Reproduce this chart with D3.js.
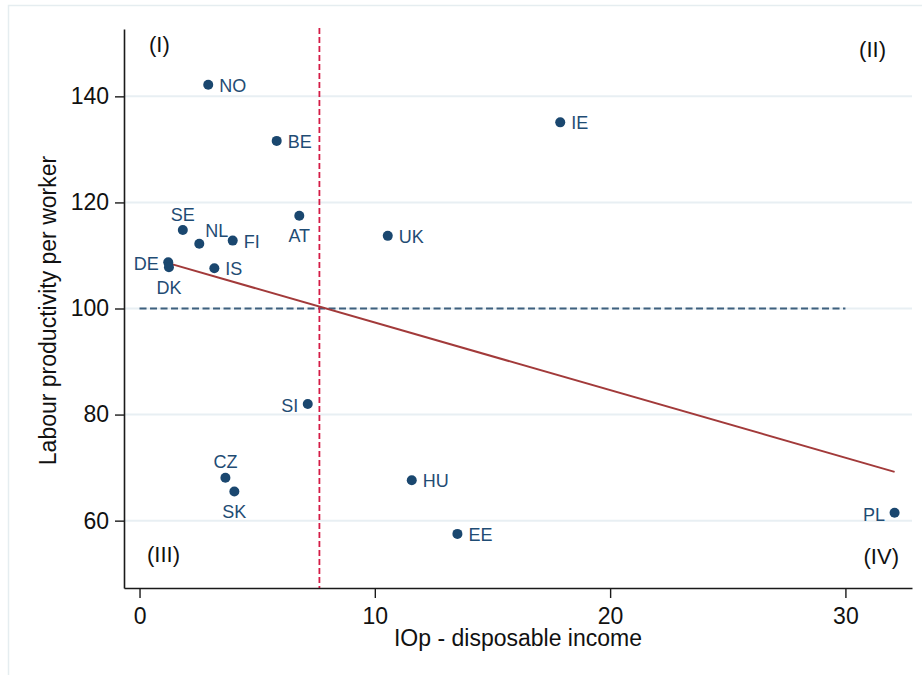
<!DOCTYPE html>
<html>
<head>
<meta charset="utf-8">
<script src="https://cdn.jsdelivr.net/npm/d3@7"></script>
<style>
  html, body { margin: 0; padding: 0; background: #fff; }
  svg { display: block; font-family: "Liberation Sans", Arial, Helvetica, sans-serif; }
</style>
</head>
<body>
<svg id="chart" width="922" height="675"></svg>
<script>
// Country codes with inequality of opportunity (disposable income) and labour productivity per worker
const countries    = ["NO", "BE", "SE", "NL", "FI", "DE", "DK", "IS", "AT", "UK", "IE", "SI", "CZ", "SK", "HU", "EE", "PL"];
const iop          = [2.92, 5.83, 1.84, 2.54, 3.96, 1.22, 1.25, 3.18, 6.79, 10.55, 17.88, 7.15, 3.65, 4.03, 11.57, 13.51, 32.09];
const productivity = [142.2, 131.6, 114.8, 112.2, 112.8, 108.7, 107.8, 107.6, 117.5, 113.7, 135.1, 82.0, 68.1, 65.5, 67.6, 57.5, 61.5];

const xTicks = [0, 10, 20, 30];
const yTicks = [60, 80, 100, 120, 140];
const quadrantLabels = ["(I)", "(II)", "(III)", "(IV)"];

// Reference level for productivity (dashed horizontal line) and its x span
const refLevel = 100;
const refSpan = [0, 30];

// Marker-label clock positions (default 3 o'clock)
const labelClock = { SE: 12, NL: 1, AT: 6, DE: 9, DK: 6, SI: 9, CZ: 12, SK: 6, PL: 9 };

const xTitle = "IOp - disposable income";
const yTitle = "Labour productivity per worker";

const svg = d3.select("#chart");
const W = 922, H = 675;
const plot = { left: 124, right: 912, top: 29, bottom: 588 };

const x = d3.scaleLinear().domain([-0.66, 32.83]).range([plot.left, plot.right]);
const y = d3.scaleLinear().domain([47.3, 152.7]).range([plot.bottom, plot.top]);

const points = countries.map((c, i) => ({ c, x: iop[i], y: productivity[i] }));

// Outer graph frame
svg.append("rect")
  .attr("x", 8.5).attr("y", 5.5)
  .attr("width", W + 20).attr("height", H + 20)
  .attr("fill", "none").attr("stroke", "#e5edf0").attr("stroke-width", 1.5);

// Horizontal gridlines
svg.append("g").selectAll("line").data(yTicks).join("line")
  .attr("x1", plot.left).attr("x2", plot.right)
  .attr("y1", d => y(d)).attr("y2", d => y(d))
  .attr("stroke", "#e8eff3").attr("stroke-width", 2);

// Dashed reference line at the productivity benchmark
svg.append("line")
  .attr("x1", x(refSpan[0])).attr("x2", x(refSpan[1]))
  .attr("y1", y(refLevel)).attr("y2", y(refLevel))
  .attr("stroke", "#3e607e").attr("stroke-width", 2)
  .attr("stroke-dasharray", "7,3.5");

// Vertical dashed line at mean IOp
const meanX = d3.mean(iop);
svg.append("line")
  .attr("x1", x(meanX)).attr("x2", x(meanX))
  .attr("y1", plot.top - 1).attr("y2", plot.bottom)
  .attr("stroke", "#d41c46").attr("stroke-width", 1.8)
  .attr("stroke-dasharray", "6,3");

// Linear fit (least squares) over the observed x range
const meanY = d3.mean(productivity);
const sxy = d3.sum(points, p => (p.x - meanX) * (p.y - meanY));
const sxx = d3.sum(points, p => (p.x - meanX) ** 2);
const slope = sxy / sxx;
const intercept = meanY - slope * meanX;
const [xmin, xmax] = d3.extent(iop);
svg.append("path")
  .datum([xmin, xmax].map(v => [v, intercept + slope * v]))
  .attr("d", d3.line().x(d => x(d[0])).y(d => y(d[1])))
  .attr("fill", "none").attr("stroke", "#a23a3a").attr("stroke-width", 2);

// Points
svg.append("g").selectAll("circle").data(points).join("circle")
  .attr("cx", d => x(d.x)).attr("cy", d => y(d.y)).attr("r", 5)
  .attr("fill", "#1a476f");

// Point labels
const offs = {
  3:  { dx: 11,   dy: 7,    anchor: "start" },
  9:  { dx: -9.5, dy: 8,    anchor: "end" },
  12: { dx: 0,    dy: -9.5, anchor: "middle" },
  6:  { dx: 0,    dy: 26.5, anchor: "middle" },
  1:  { dx: 6,    dy: -6.5, anchor: "start" }
};
svg.append("g").selectAll("text").data(points).join("text")
  .each(function (d) {
    const o = offs[labelClock[d.c] || 3];
    d3.select(this)
      .attr("x", x(d.x) + o.dx).attr("y", y(d.y) + o.dy)
      .attr("text-anchor", o.anchor);
  })
  .attr("font-size", 18).attr("fill", "#1f4c74")
  .text(d => d.c);

// Quadrant labels
const qPos = [
  { x: plot.left + 25,  y: plot.top + 23,    a: "start" },
  { x: plot.right - 26, y: plot.top + 28,    a: "end" },
  { x: plot.left + 23,  y: plot.bottom - 26, a: "start" },
  { x: plot.right - 13, y: plot.bottom - 24.5, a: "end" }
];
svg.append("g").selectAll("text").data(quadrantLabels).join("text")
  .attr("x", (d, i) => qPos[i].x).attr("y", (d, i) => qPos[i].y)
  .attr("text-anchor", (d, i) => qPos[i].a)
  .attr("font-size", 22).attr("fill", "#111")
  .text(d => d);

// Axes
const yAxis = svg.append("g")
  .attr("transform", `translate(${plot.left},0)`)
  .call(d3.axisLeft(y).tickValues(yTicks).tickSize(9).tickSizeOuter(0).tickPadding(6));
const xAxis = svg.append("g")
  .attr("transform", `translate(0,${plot.bottom})`)
  .call(d3.axisBottom(x).tickValues(xTicks).tickSize(10).tickSizeOuter(0).tickPadding(10));
[yAxis, xAxis].forEach(g => {
  g.attr("font-family", null).attr("font-size", null);
  g.select(".domain").attr("stroke", "#1a1a1a").attr("stroke-width", 1.6);
  g.selectAll(".tick line").attr("stroke", "#1a1a1a").attr("stroke-width", 1.4);
  g.selectAll(".tick text").attr("font-size", 23).attr("fill", "#111");
});

// Axis titles
svg.append("text")
  .attr("x", (plot.left + plot.right) / 2).attr("y", 646)
  .attr("text-anchor", "middle").attr("font-size", 23).attr("fill", "#111")
  .text(xTitle);
svg.append("text")
  .attr("transform", `translate(56,${(plot.top + plot.bottom) / 2 + 2}) rotate(-90)`)
  .attr("text-anchor", "middle").attr("font-size", 23).attr("fill", "#111")
  .text(yTitle);
</script>
</body>
</html>
